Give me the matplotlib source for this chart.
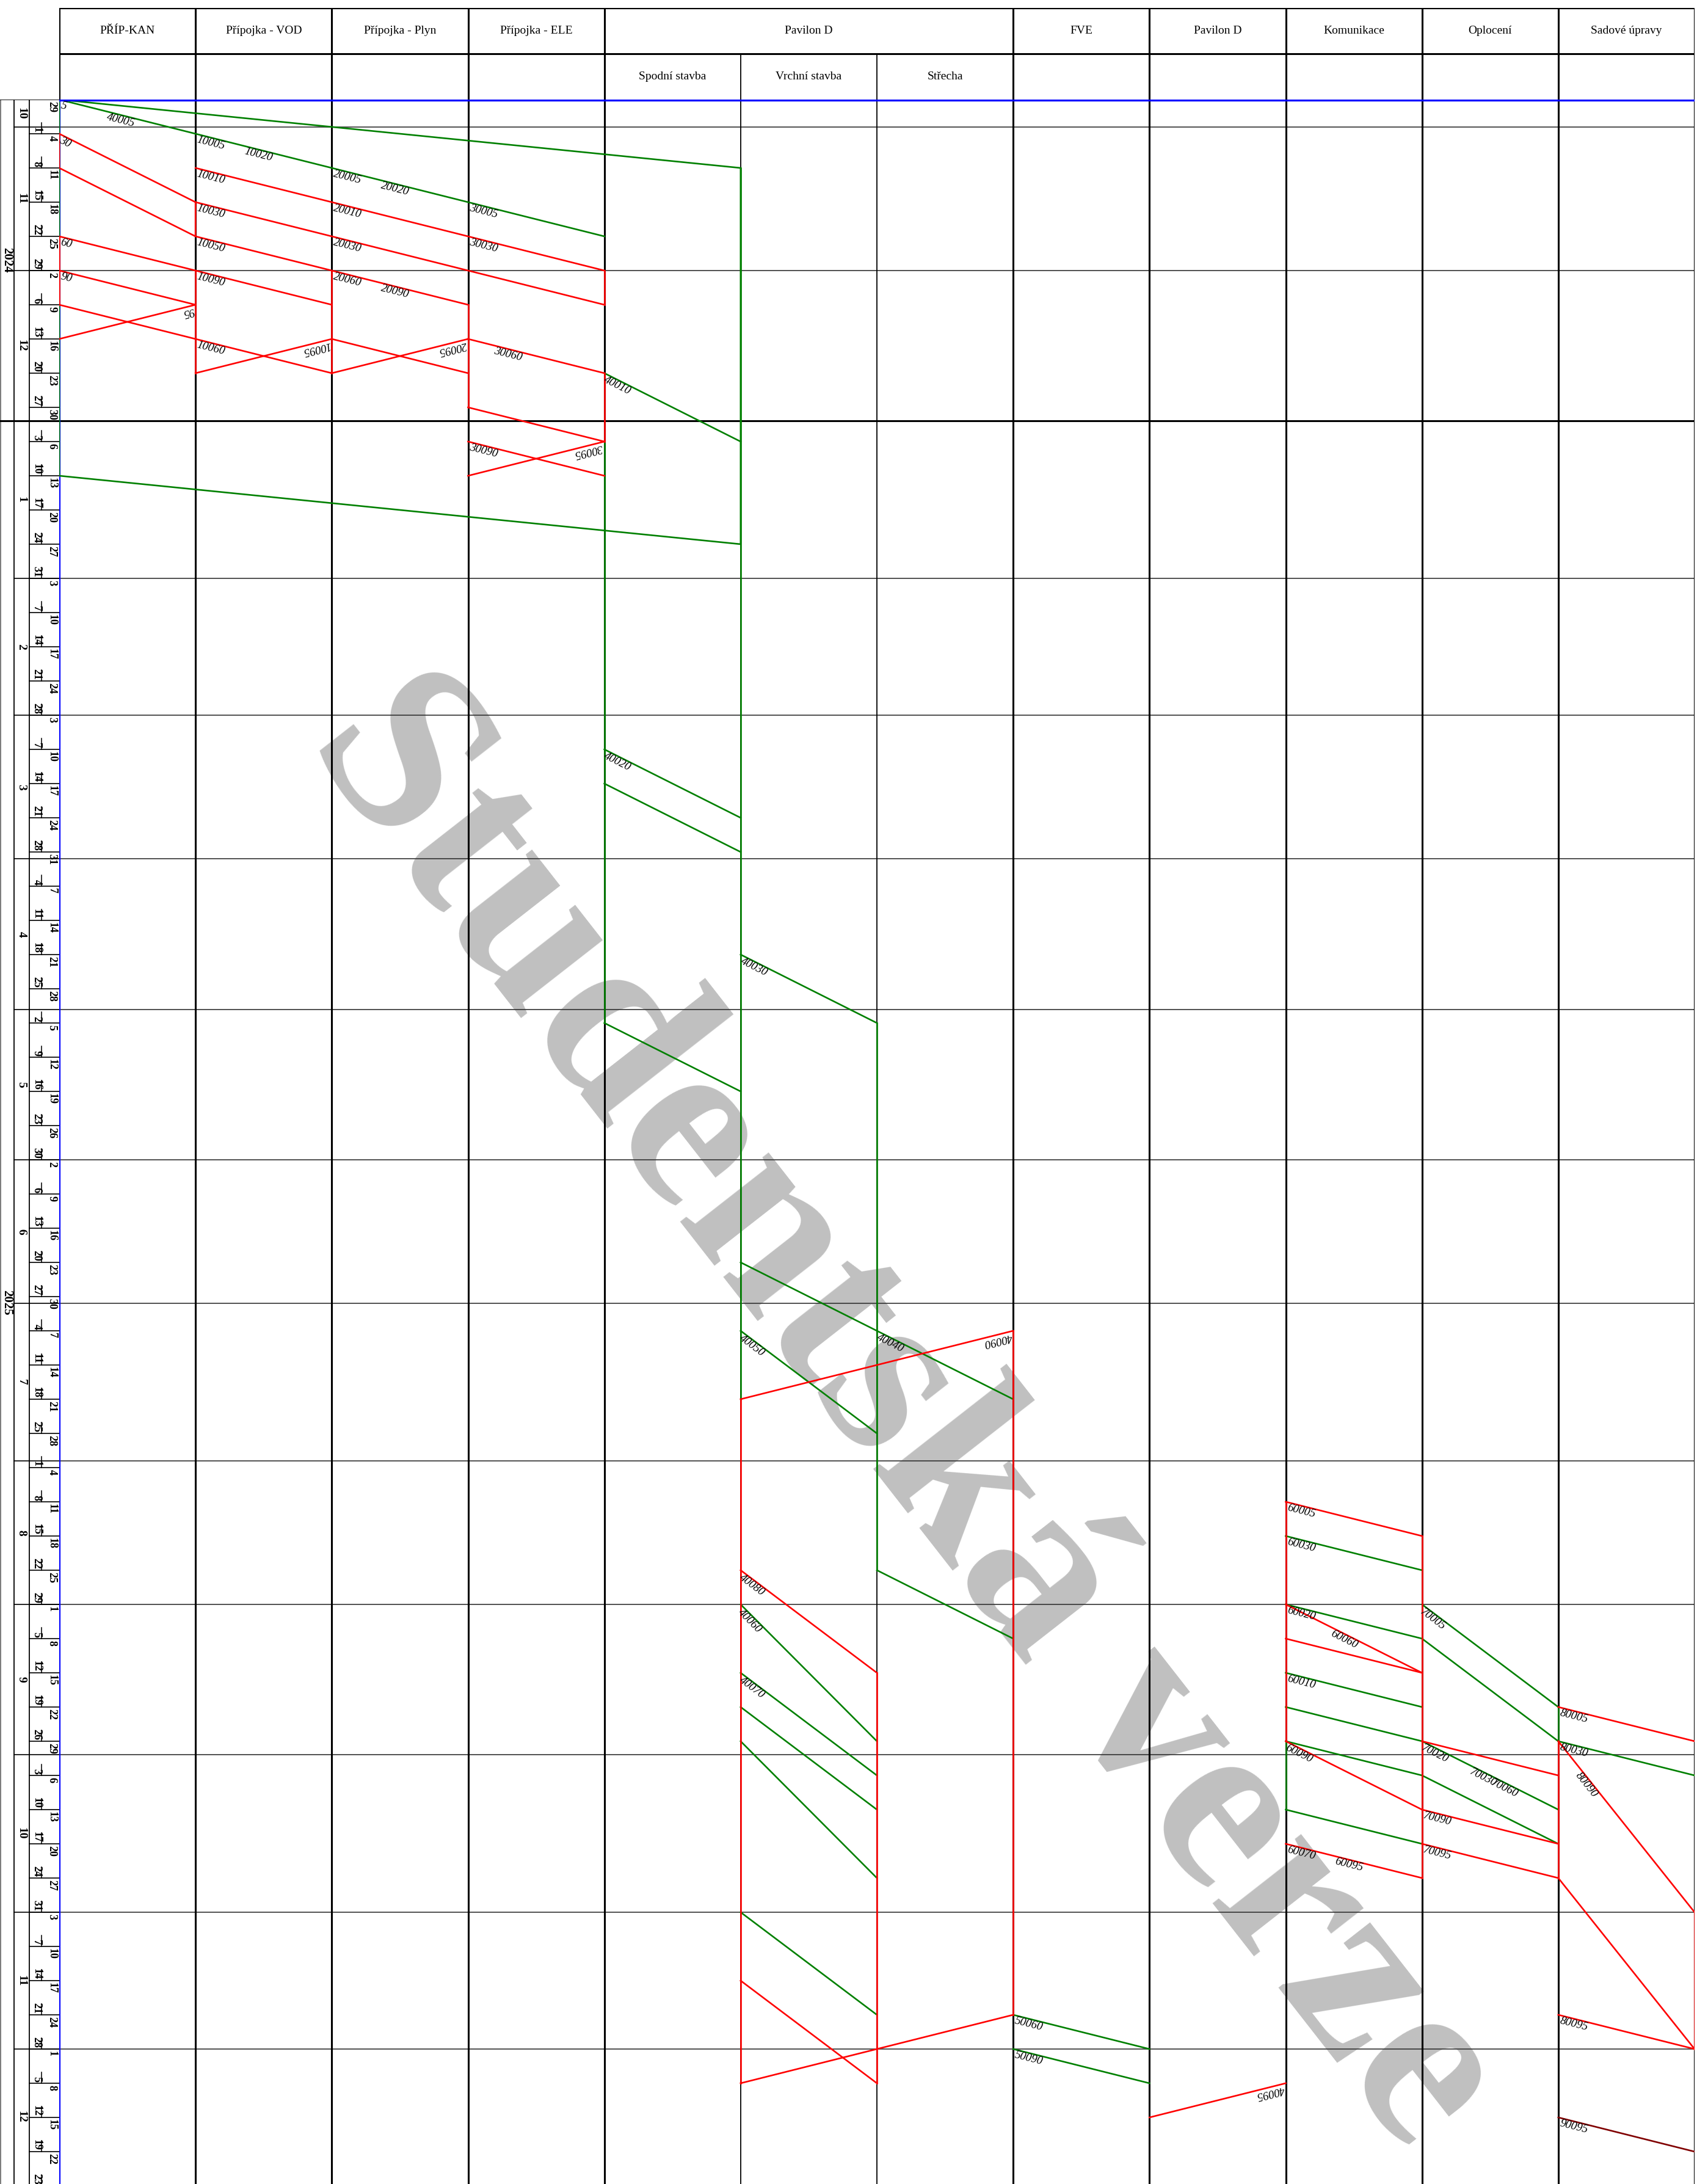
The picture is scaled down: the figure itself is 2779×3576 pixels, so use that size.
import numpy as np
import matplotlib
matplotlib.use("Agg")
import matplotlib.pyplot as plt
from datetime import date, timedelta

# canvas geometry (pixels of the original sheet)
W, H, DPI = 2779, 3576, 100
X_LEFT, X_RIGHT = 97, 2775
Y_HEAD_TOP, Y_HEAD_MID, Y_TOP = 13, 88, 163
PX_PER_WD = 11.2                      # one working day
WD_BOTTOM = (H - Y_TOP) / PX_PER_WD

SERIF = "Liberation Serif"
GREEN, RED, MAROON, BLUE = "#008000", "#ff0000", "#800000", "#0000ff"

# header
HEAD_TOP = ["PŘÍP-KAN", "Přípojka - VOD", "Přípojka - Plyn", "Přípojka - ELE",
            "Pavilon D", "FVE", "Pavilon D", "Komunikace", "Oplocení", "Sadové úpravy"]
HEAD_SPAN = [(0, 1), (1, 2), (2, 3), (3, 4), (4, 7), (7, 8), (8, 9), (9, 10), (10, 11), (11, 12)]
HEAD_SUB = ["Spodní stavba", "Vrchní stavba", "Střecha"]
HEAD_SUB_COL = [4, 5, 6]

# time axis (working days from Mon 28.10.2024)
T0 = date(2024, 10, 28)
PROJECT_START, PROJECT_END = date(2024, 10, 29), date(2025, 12, 23)
MONTH_FIRST = ["2024-11-01", "2024-12-02", "2025-01-01", "2025-02-03", "2025-03-03",
               "2025-04-01", "2025-05-01", "2025-06-02", "2025-07-01", "2025-08-01",
               "2025-09-01", "2025-10-01", "2025-11-03", "2025-12-01"]
MONTH_LABELS = ["10", "11", "12", "1", "2", "3", "4", "5", "6", "7", "8", "9", "10", "11", "12"]
YEAR_LABELS = ["2024", "2025"]
N_WEEKS = 61

# activity lines: (x = location column, y = working day)
GREEN_LINES = [
    ([0, 5, 5, 0, 0], [0, 10, 65, 55, 0]),
    ([0, 1, 2, 3, 4], [0, 5, 10, 15, 20]),
    ([4, 5], [40, 50]), ([4, 4], [50, 135]), ([5, 5], [10, 190]),
    ([4, 5], [95, 105]), ([4, 5], [100, 110]),
    ([5, 6], [125, 135]), ([4, 5], [135, 145]), ([6, 6], [135, 215]),
    ([5, 7], [170, 190]), ([5, 6], [180, 195]), ([6, 7], [215, 225]),
    ([5, 6], [220, 240]), ([5, 6], [230, 245]), ([5, 6], [235, 250]),
    ([5, 6], [240, 260]), ([5, 6], [265, 280]),
    ([7, 8], [280, 285]), ([7, 8], [285, 290]),
    ([9, 10], [210, 215]), ([9, 10], [220, 225]), ([9, 10], [230, 235]),
    ([9, 10], [235, 240]), ([9, 10], [240, 245]), ([9, 10], [250, 255]), ([9, 9], [240, 250]),
    ([10, 11], [220, 235]), ([10, 11], [225, 240]), ([10, 11], [240, 250]),
    ([10, 11], [245, 255]), ([11, 11], [235, 240]),
    ([11, 12], [240, 245]),
]
RED_LINES = [
    ([0, 1, 1, 0, 0], [5, 15, 20, 10, 5]),
    ([0, 1], [20, 25]), ([0, 0], [20, 30]),
    ([0, 1], [25, 30]), ([0, 1], [30, 35]), ([1, 0], [30, 35]),
    ([1, 2, 3, 4], [10, 15, 20, 25]), ([1, 2, 3, 4], [15, 20, 25, 30]),
    ([1, 2, 3], [20, 25, 30]), ([1, 2], [25, 30]), ([1, 1], [25, 40]),
    ([1, 2], [35, 40]), ([2, 1], [35, 40]), ([2, 2], [25, 40]),
    ([2, 3], [35, 40]), ([3, 2], [35, 40]), ([3, 3], [30, 45]),
    ([3, 4], [35, 40]), ([3, 4], [45, 50]), ([3, 4], [50, 55]), ([4, 3], [50, 55]),
    ([4, 4], [25, 30]), ([4, 4], [40, 50]),
    ([7, 5], [180, 190]), ([5, 5], [190, 290]), ([7, 7], [180, 280]), ([6, 6], [230, 290]),
    ([5, 6], [215, 230]), ([5, 6], [275, 290]), ([7, 5], [280, 290]),
    ([9, 8], [290, 295]),
    ([9, 10], [205, 210]), ([9, 9], [205, 240]), ([10, 10], [210, 260]),
    ([9, 10], [220, 230]), ([9, 10], [225, 230]), ([9, 10], [240, 250]), ([9, 10], [255, 260]),
    ([10, 11], [240, 245]), ([10, 11], [250, 255]), ([10, 11], [255, 260]), ([11, 11], [240, 260]),
    ([11, 12], [235, 240]), ([11, 12], [240, 265]), ([11, 12], [260, 285]),
    ([12, 12], [265, 285]), ([11, 12], [280, 285]),
]
MAROON_LINES = [([11, 12], [295, 300])]

# activity codes: text, line it sits on (x0, y0, x1, y1), position along the line
LABELS = [
    ("5", 0, 0, 1, 5, 0.02), ("40005", 0, 0, 1, 5, 0.36), ("30", 0, 5, 1, 15, 0.02),
    ("60", 0, 20, 1, 25, 0.02), ("90", 0, 25, 1, 30, 0.02), ("95", 1, 30, 0, 35, 0.02),
    ("10005", 1, 5, 2, 10, 0.02), ("10020", 1, 5, 2, 10, 0.37), ("10010", 1, 10, 2, 15, 0.02),
    ("10030", 1, 15, 2, 20, 0.02), ("10050", 1, 20, 2, 25, 0.02), ("10090", 1, 25, 2, 30, 0.02),
    ("10060", 1, 35, 2, 40, 0.02), ("10095", 2, 35, 1, 40, 0.02),
    ("20005", 2, 10, 3, 15, 0.02), ("20020", 2, 10, 3, 15, 0.37), ("20010", 2, 15, 3, 20, 0.02),
    ("20030", 2, 20, 3, 25, 0.02), ("20060", 2, 25, 3, 30, 0.02), ("20090", 2, 25, 3, 30, 0.37),
    ("20095", 3, 35, 2, 40, 0.02),
    ("30005", 3, 15, 4, 20, 0.02), ("30030", 3, 20, 4, 25, 0.02), ("30060", 3, 35, 4, 40, 0.2),
    ("30090", 3, 50, 4, 55, 0.02), ("30095", 4, 50, 3, 55, 0.02),
    ("40010", 4, 40, 5, 50, 0.02), ("40020", 4, 95, 5, 105, 0.02), ("40030", 5, 125, 6, 135, 0.02),
    ("40040", 5, 170, 7, 190, 0.51), ("40050", 5, 180, 6, 195, 0.02), ("40090", 7, 180, 5, 190, 0.01),
    ("40080", 5, 215, 6, 230, 0.02), ("40060", 5, 220, 6, 240, 0.02), ("40070", 5, 230, 6, 245, 0.02),
    ("50060", 7, 280, 8, 285, 0.02), ("50090", 7, 285, 8, 290, 0.02), ("40095", 9, 290, 8, 295, 0.02),
    ("60005", 9, 205, 10, 210, 0.02), ("60030", 9, 210, 10, 215, 0.02), ("60020", 9, 220, 10, 225, 0.02),
    ("60060", 9, 220, 10, 230, 0.35), ("60010", 9, 230, 10, 235, 0.02), ("60090", 9, 240, 10, 250, 0.02),
    ("60070", 9, 255, 10, 260, 0.02), ("60095", 9, 255, 10, 260, 0.37),
    ("70005", 10, 220, 11, 235, 0.02), ("70020", 10, 240, 11, 250, 0.02), ("70030", 10, 240, 11, 250, 0.37),
    ("70060", 10, 240, 11, 250, 0.53), ("70090", 10, 250, 11, 255, 0.02), ("70095", 10, 255, 11, 260, 0.02),
    ("80005", 11, 235, 12, 240, 0.02), ("80030", 11, 240, 12, 245, 0.02), ("80090", 11, 240, 12, 265, 0.17),
    ("80095", 11, 280, 12, 285, 0.02), ("90095", 11, 295, 12, 300, 0.02),
]

month_wd = [0] + [int(np.busday_count(T0.isoformat(), d)) for d in MONTH_FIRST]
YEAR_WD = month_wd[3]


def main():
    fig = plt.figure(figsize=(W / DPI, H / DPI), dpi=DPI)
    fig.patch.set_facecolor("white")

    ax = fig.add_axes([X_LEFT / W, 0, (X_RIGHT - X_LEFT) / W, (H - Y_TOP) / H])
    ax.set_xlim(0, 12)
    ax.set_ylim(WD_BOTTOM, 0)
    ax.axis("off")

    hx = fig.add_axes([X_LEFT / W, 1 - Y_TOP / H, (X_RIGHT - X_LEFT) / W, (Y_TOP - Y_HEAD_TOP) / H])
    hx.set_xlim(0, 12)
    hx.set_ylim(2, 0)
    hx.axis("off")

    lx = fig.add_axes([0, 0, X_LEFT / W, (H - Y_TOP) / H])
    lx.set_xlim(0, X_LEFT)
    lx.set_ylim(WD_BOTTOM, 0)
    lx.axis("off")

    # watermark
    ax.text(6.20, 192.1, "Studentská verze", rotation=-52, fontsize=289, color="#c0c0c0",
            family=SERIF, weight="bold", ha="center", va="center", rotation_mode="anchor",
            zorder=0, clip_on=True)

    # grid
    for wd in month_wd[1:]:
        if wd == YEAR_WD:
            ax.axhline(wd, color="black", lw=2.2, zorder=1)
        else:
            ax.axhline(wd, color="#333333", lw=1.2, zorder=1)
    for c in range(1, 13):
        thin = c in (5, 6)
        ax.axvline(c, color="black", lw=1.3 if thin else 2.2, zorder=1)
    ax.plot([0, 0], [0, WD_BOTTOM], color=BLUE, lw=3.0, zorder=2, solid_capstyle="butt")

    # header
    hx.plot([0, 12], [0, 0], color="black", lw=3.0)
    hx.plot([0, 12], [1, 1], color="black", lw=2.2)
    for c in [0, 1, 2, 3, 4, 7, 8, 9, 10, 11, 12]:
        hx.plot([c, c], [0, 2], color="black", lw=2.2)
    for c in [5, 6]:
        hx.plot([c, c], [1, 2], color="black", lw=1.3)
    for name, (a, b) in zip(HEAD_TOP, HEAD_SPAN):
        hx.text((a + b) / 2, 0.5, name, ha="center", va="center", fontsize=14, family=SERIF)
    for name, c in zip(HEAD_SUB, HEAD_SUB_COL):
        hx.text(c + 0.5, 1.5, name, ha="center", va="center", fontsize=14, family=SERIF)

    # activity lines
    for xs, ys in GREEN_LINES:
        ax.plot(xs, ys, color=GREEN, lw=1.9, zorder=3)
    for xs, ys in RED_LINES:
        ax.plot(xs, ys, color=RED, lw=1.9, zorder=4)
    for xs, ys in MAROON_LINES:
        ax.plot(xs, ys, color=MAROON, lw=1.9, zorder=4)
    ax.axhline(0, color=BLUE, lw=3.8, zorder=5)

    for text, x0, y0, x1, y1, f in LABELS:
        p0 = ax.transData.transform((x0, y0))
        p1 = ax.transData.transform((x1, y1))
        ang = np.degrees(np.arctan2(p1[1] - p0[1], p1[0] - p0[0]))
        ax.text(x0 + f * (x1 - x0), y0 + f * (y1 - y0), text, rotation=ang,
                rotation_mode="anchor", ha="left", va="top" if x1 > x0 else "bottom",
                fontsize=13.5, family=SERIF, style="italic", zorder=6)

    # left time scale
    lx.plot([1, 1], [0, WD_BOTTOM], color="#666666", lw=1.2)
    lx.plot([23, 23], [0, WD_BOTTOM], color="black", lw=1.3)
    lx.plot([48, 48], [0, WD_BOTTOM], color="black", lw=1.3)
    lx.plot([0, X_LEFT], [0, 0], color="black", lw=1.3)
    for wd in month_wd[1:]:
        if wd == YEAR_WD:
            lx.plot([0, X_LEFT], [wd, wd], color="black", lw=2.2)
        else:
            lx.plot([23, X_LEFT], [wd, wd], color="black", lw=1.2)
    bounds = month_wd + [WD_BOTTOM]
    for i, lab in enumerate(MONTH_LABELS):
        lx.text(35, (bounds[i] + bounds[i + 1]) / 2, lab, rotation=-90, ha="center", va="center",
                fontsize=14, family=SERIF, weight="bold")
    for lab, (a, b) in zip(YEAR_LABELS, [(0, YEAR_WD), (YEAR_WD, WD_BOTTOM)]):
        lx.text(11, (a + b) / 2, lab, rotation=-90, ha="center", va="center",
                fontsize=15, family=SERIF, weight="bold")
    for k in range(N_WEEKS):
        y0 = 5 * k
        if k > 0:
            lx.plot([48, X_LEFT], [y0, y0], color="black", lw=1.2)
        # short divider beside the Friday label
        lx.plot([68, 68], [y0 + 3.4, y0 + 5], color="black", lw=1.1)
        mon = max(T0 + timedelta(days=7 * k), PROJECT_START)
        fri = min(T0 + timedelta(days=7 * k + 4), PROJECT_END)
        lx.text(85, y0 + 0.25, str(mon.day), rotation=-90, rotation_mode="anchor",
                ha="left", va="center", fontsize=13, family=SERIF, weight="bold")
        lx.text(60, y0 + 4.8, str(fri.day), rotation=-90, rotation_mode="anchor",
                ha="right", va="center", fontsize=13, family=SERIF, weight="bold")

    fig.savefig("out.png", dpi=DPI)


if __name__ == "__main__":
    main()
